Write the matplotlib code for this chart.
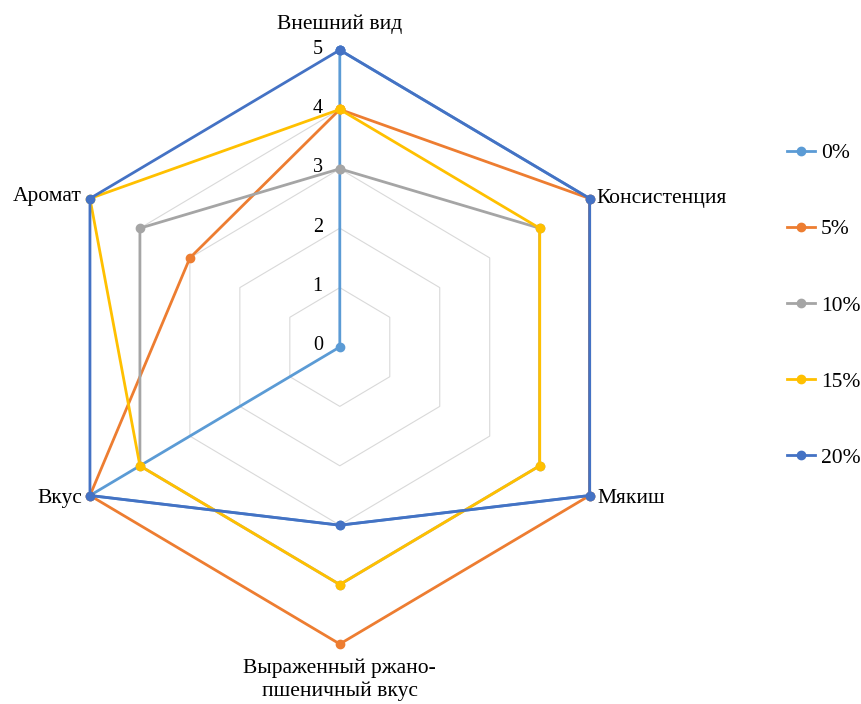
import numpy as np
import matplotlib
matplotlib.use("Agg")
import matplotlib.pyplot as plt

plt.rcParams['font.family'] = ['Liberation Serif', 'DejaVu Serif']

# axes of the radar, clockwise from the top
categories = ['Внешний вид', 'Консистенция', 'Мякиш',
              'Выраженный ржано-\nпшеничный вкус', 'Вкус', 'Аромат']
series_names = ['0%', '5%', '10%', '15%', '20%']
s0 = [5, 5, 5, 3, 5, 0]
s5 = [4, 5, 5, 5, 5, 3]
s10 = [3, 4, 4, 4, 4, 4]
s15 = [4, 4, 4, 4, 4, 5]
s20 = [5, 5, 5, 3, 5, 5]
levels = [0, 1, 2, 3, 4, 5]

colors = ['#5B9BD5', '#ED7D31', '#A5A5A5', '#FFC000', '#4472C4']

fig = plt.figure(figsize=(8.62, 7.04), dpi=100)
ax = fig.add_axes([51.3 / 862, 60 / 704, 577 / 862, 594 / 704], projection='polar')
ax.set_aspect('auto')
ax.set_theta_zero_location('N')
ax.set_theta_direction(-1)

n = len(categories)
angles = np.linspace(0, 2 * np.pi, n, endpoint=False)
ang_c = np.append(angles, angles[0])

# hexagonal grid
for lv in levels[1:]:
    ax.plot(ang_c, [lv] * (n + 1), color='#D9D9D9', lw=0.8, zorder=0, clip_on=False)

for name, vals, c in zip(series_names, [s0, s5, s10, s15, s20], colors):
    v = np.append(vals, vals[0])
    ax.plot(ang_c, v, color=c, lw=2.0, marker='o', ms=6, label=name, clip_on=False)

ax.set_ylim(0, 5)
ax.set_xticks([])
ax.set_yticks([])
ax.grid(False)
ax.spines['polar'].set_visible(False)
ax.patch.set_alpha(0)

fs = 15.5
# value labels
for lv in levels:
    ax.annotate(str(lv), xy=(0, lv), xytext=(-17, 1), textcoords='offset pixels',
                ha='right', va='center', fontsize=fs - 1)

# category labels
offs = [((0, 26), 'center', 'center'),
        ((7, 0), 'left', 'center'),
        ((8, -3), 'left', 'center'),
        ((0, -14), 'center', 'top'),
        ((-8, -3), 'right', 'center'),
        ((-8, 2), 'right', 'center')]
for a, lab, (xy, ha, va) in zip(angles, categories, offs):
    ax.annotate(lab, xy=(a, 5), xytext=xy, textcoords='offset pixels',
                ha=ha, va=va, fontsize=fs, multialignment='center', linespacing=1.3)

fig.legend(loc='upper left', bbox_to_anchor=(768 / 862, 1 - 124 / 704), frameon=False,
           fontsize=fs, labelspacing=2.6, handlelength=1.3, handletextpad=0.25)

fig.savefig('out.png', dpi=100)
